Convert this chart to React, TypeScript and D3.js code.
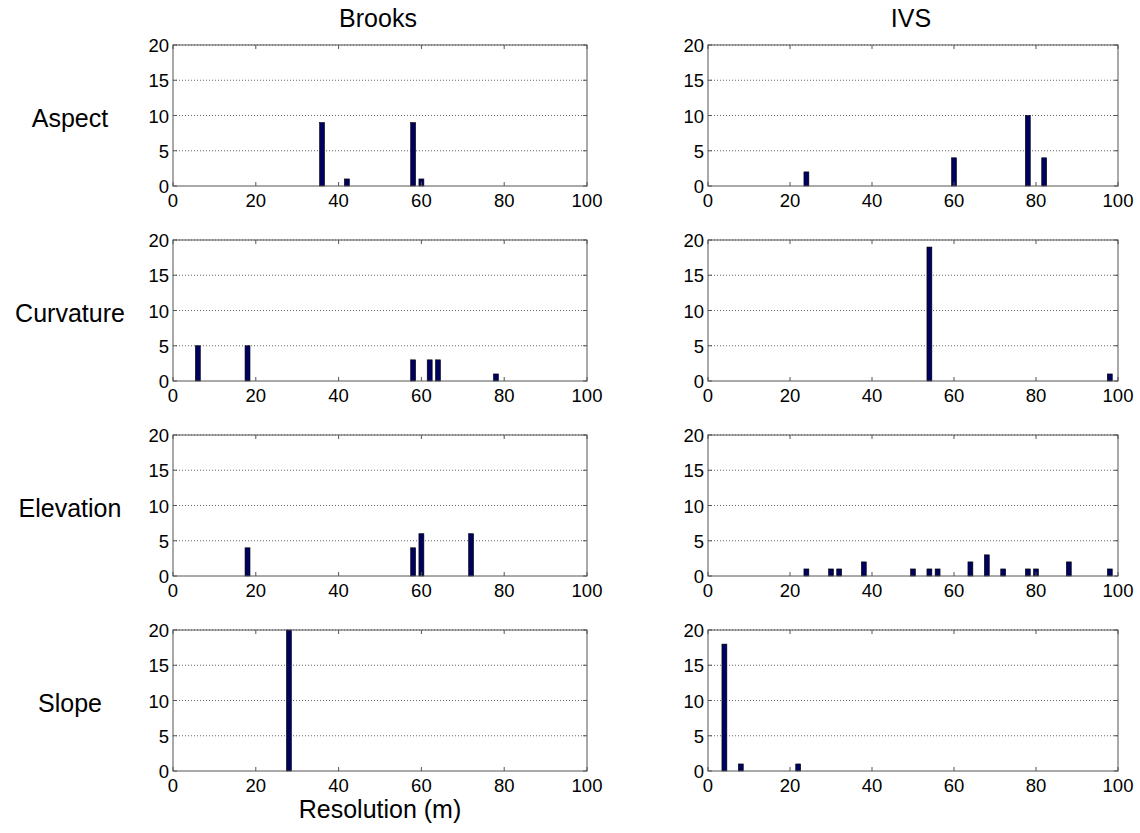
import React from "react";
import * as d3 from "d3";

const columns = ["Brooks", "IVS"];
const rows = ["Aspect", "Curvature", "Elevation", "Slope"];
const xTicks = [0, 20, 40, 60, 80, 100];
const yTicks = [0, 5, 10, 15, 20];

type Bar = { x: number; v: number };

const brooksAspect: Bar[] = [{ x: 36, v: 9 }, { x: 42, v: 1 }, { x: 58, v: 9 }, { x: 60, v: 1 }];
const ivsAspect: Bar[] = [{ x: 24, v: 2 }, { x: 60, v: 4 }, { x: 78, v: 10 }, { x: 82, v: 4 }];
const brooksCurvature: Bar[] = [{ x: 6, v: 5 }, { x: 18, v: 5 }, { x: 58, v: 3 }, { x: 62, v: 3 }, { x: 64, v: 3 }, { x: 78, v: 1 }];
const ivsCurvature: Bar[] = [{ x: 54, v: 19 }, { x: 98, v: 1 }];
const brooksElevation: Bar[] = [{ x: 18, v: 4 }, { x: 58, v: 4 }, { x: 60, v: 6 }, { x: 72, v: 6 }];
const ivsElevation: Bar[] = [
  { x: 24, v: 1 }, { x: 30, v: 1 }, { x: 32, v: 1 }, { x: 38, v: 2 }, { x: 50, v: 1 },
  { x: 54, v: 1 }, { x: 56, v: 1 }, { x: 64, v: 2 }, { x: 68, v: 3 }, { x: 72, v: 1 },
  { x: 78, v: 1 }, { x: 80, v: 1 }, { x: 88, v: 2 }, { x: 98, v: 1 },
];
const brooksSlope: Bar[] = [{ x: 28, v: 20 }];
const ivsSlope: Bar[] = [{ x: 4, v: 18 }, { x: 8, v: 1 }, { x: 22, v: 1 }];

const panelData: Bar[][][] = [
  [brooksAspect, ivsAspect],
  [brooksCurvature, ivsCurvature],
  [brooksElevation, ivsElevation],
  [brooksSlope, ivsSlope],
];

const W = 1140;
const H = 833;
const colX = [173, 708];
const colW = [414, 410];
const rowY = [45, 240, 435, 630];
const panelH = 141;
const barW = 1.2;
const font = "Liberation Sans, Arial, sans-serif";
const axisColor = "#555";

function Panel({ px, py, pw, data }: { px: number; py: number; pw: number; data: Bar[] }) {
  const x = d3.scaleLinear().domain([0, 100]).range([px, px + pw]);
  const y = d3.scaleLinear().domain([0, 20]).range([py + panelH, py]);
  return (
    <g>
      <rect x={px} y={py} width={pw} height={panelH} fill="#fff" />
      {yTicks.slice(1).map((t) => (
        <line key={"g" + t} x1={px} x2={px + pw} y1={y(t)} y2={y(t)} stroke="#666" strokeWidth={1} strokeDasharray="1,2" />
      ))}
      {data.map((d, i) => (
        <rect
          key={i}
          x={x(d.x - barW / 2)}
          width={x(d.x + barW / 2) - x(d.x - barW / 2)}
          y={y(Math.min(d.v, 20))}
          height={y(0) - y(Math.min(d.v, 20))}
          fill="#00005e"
          stroke="#000"
          strokeWidth={0.6}
        />
      ))}
      <rect x={px} y={py} width={pw} height={panelH} fill="none" stroke={axisColor} strokeWidth={1} />
      {xTicks.map((t) => (
        <g key={"x" + t}>
          <line x1={x(t)} x2={x(t)} y1={py + panelH} y2={py + panelH - 4} stroke={axisColor} />
          <line x1={x(t)} x2={x(t)} y1={py} y2={py + 4} stroke={axisColor} />
          <text x={x(t)} y={py + panelH + 21} textAnchor="middle" fontSize={18.5} fontFamily={font} fill="#000">
            {t}
          </text>
        </g>
      ))}
      {yTicks.map((t) => (
        <g key={"y" + t}>
          <line x1={px} x2={px + 4} y1={y(t)} y2={y(t)} stroke={axisColor} />
          <line x1={px + pw} x2={px + pw - 4} y1={y(t)} y2={y(t)} stroke={axisColor} />
          <text x={px - 4} y={y(t) + 7} textAnchor="end" fontSize={18.5} fontFamily={font} fill="#000">
            {t}
          </text>
        </g>
      ))}
    </g>
  );
}

export default function App() {
  return (
    <svg width={W} height={H} style={{ display: "block", position: "absolute", left: 0, top: 0 }}>
      <rect width={W} height={H} fill="#fff" />
      {columns.map((c, ci) => (
        <text key={c} x={colX[ci] + colW[ci] / 2 - 2} y={27} textAnchor="middle" fontSize={25} fontFamily={font} fill="#000">
          {c}
        </text>
      ))}
      {rows.map((r, ri) => (
        <text key={r} x={70} y={rowY[ri] + panelH / 2 + 11.5} textAnchor="middle" fontSize={25} fontFamily={font} fill="#000">
          {r}
        </text>
      ))}
      {rows.map((r, ri) =>
        columns.map((c, ci) => (
          <Panel key={r + c} px={colX[ci]} py={rowY[ri]} pw={colW[ci]} data={panelData[ri][ci]} />
        ))
      )}
      <text x={colX[0] + colW[0] / 2} y={818} textAnchor="middle" fontSize={25} fontFamily={font} fill="#000">
        Resolution (m)
      </text>
    </svg>
  );
}
